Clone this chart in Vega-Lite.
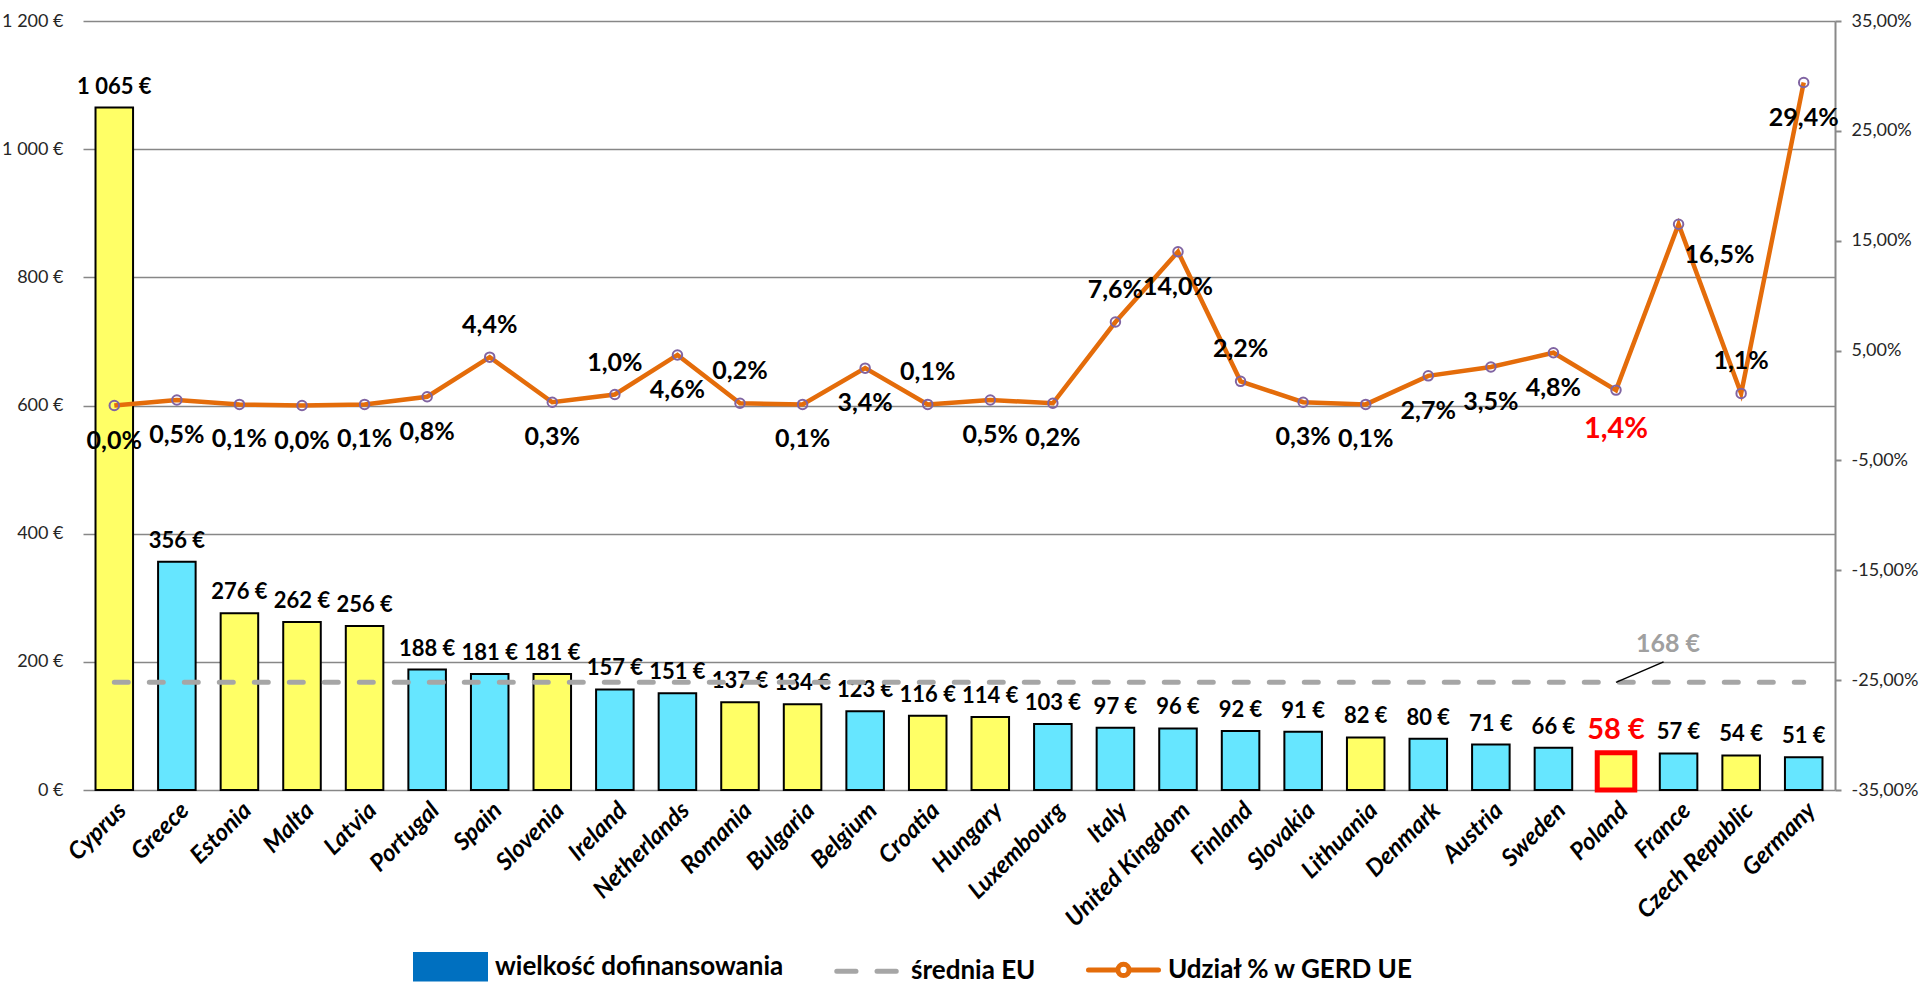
{
  "$schema": "https://vega.github.io/schema/vega-lite/v6.json",
  "width": 1752,
  "height": 769,
  "autosize": {"type": "none"},
  "padding": {"left": 83, "top": 21, "right": 85, "bottom": 196},
  "background": "white",
  "config": {"font": "Lato", "view": {"stroke": null}},
  "data": {
    "values": [
      {"country": "Cyprus", "value": 1065, "pct": 0.0, "grupa": "nowe", "avg": 168},
      {"country": "Greece", "value": 356, "pct": 0.5, "grupa": "stare", "avg": 168},
      {"country": "Estonia", "value": 276, "pct": 0.1, "grupa": "nowe", "avg": 168},
      {"country": "Malta", "value": 262, "pct": 0.0, "grupa": "nowe", "avg": 168},
      {"country": "Latvia", "value": 256, "pct": 0.1, "grupa": "nowe", "avg": 168},
      {"country": "Portugal", "value": 188, "pct": 0.8, "grupa": "stare", "avg": 168},
      {"country": "Spain", "value": 181, "pct": 4.4, "grupa": "stare", "avg": 168},
      {"country": "Slovenia", "value": 181, "pct": 0.3, "grupa": "nowe", "avg": 168},
      {"country": "Ireland", "value": 157, "pct": 1.0, "grupa": "stare", "avg": 168},
      {"country": "Netherlands", "value": 151, "pct": 4.6, "grupa": "stare", "avg": 168},
      {"country": "Romania", "value": 137, "pct": 0.2, "grupa": "nowe", "avg": 168},
      {"country": "Bulgaria", "value": 134, "pct": 0.1, "grupa": "nowe", "avg": 168},
      {"country": "Belgium", "value": 123, "pct": 3.4, "grupa": "stare", "avg": 168},
      {"country": "Croatia", "value": 116, "pct": 0.1, "grupa": "nowe", "avg": 168},
      {"country": "Hungary", "value": 114, "pct": 0.5, "grupa": "nowe", "avg": 168},
      {"country": "Luxembourg", "value": 103, "pct": 0.2, "grupa": "stare", "avg": 168},
      {"country": "Italy", "value": 97, "pct": 7.6, "grupa": "stare", "avg": 168},
      {"country": "United Kingdom", "value": 96, "pct": 14.0, "grupa": "stare", "avg": 168},
      {"country": "Finland", "value": 92, "pct": 2.2, "grupa": "stare", "avg": 168},
      {"country": "Slovakia", "value": 91, "pct": 0.3, "grupa": "stare", "avg": 168},
      {"country": "Lithuania", "value": 82, "pct": 0.1, "grupa": "nowe", "avg": 168},
      {"country": "Denmark", "value": 80, "pct": 2.7, "grupa": "stare", "avg": 168},
      {"country": "Austria", "value": 71, "pct": 3.5, "grupa": "stare", "avg": 168},
      {"country": "Sweden", "value": 66, "pct": 4.8, "grupa": "stare", "avg": 168},
      {"country": "Poland", "value": 58, "pct": 1.4, "grupa": "nowe", "avg": 168},
      {"country": "France", "value": 57, "pct": 16.5, "grupa": "stare", "avg": 168},
      {"country": "Czech Republic", "value": 54, "pct": 1.1, "grupa": "nowe", "avg": 168},
      {"country": "Germany", "value": 51, "pct": 29.4, "grupa": "stare", "avg": 168}
    ]
  },
  "encoding": {
    "x": {
      "field": "country",
      "type": "nominal",
      "sort": null,
      "scale": {"paddingInner": 0.4, "paddingOuter": 0.2},
      "axis": {
        "title": null,
        "labelAngle": -45,
        "labelFontSize": 24,
        "labelFontWeight": "bold",
        "labelFontStyle": "italic",
        "labelColor": "black",
        "labelLimit": 0,
        "ticks": false,
        "domain": false,
        "labelPadding": 8
      }
    }
  },
  "layer": [
    {
      "layer": [
        {
          "mark": {"type": "bar"},
          "encoding": {
            "y": {
              "field": "value",
              "type": "quantitative",
              "scale": {"domain": [0, 1200], "nice": false},
              "axis": {
                "title": null,
                "orient": "left",
                "values": [0, 200, 400, 600, 800, 1000, 1200],
                "labelExpr": "replace(format(datum.value, ','), ',', ' ') + ' €'",
                "domain": false,
                "ticks": false,
                "grid": true,
                "gridColor": "#878787",
                "gridWidth": 1.6,
                "labelFontSize": 18,
                "labelColor": "#262626",
                "labelPadding": 20
              }
            },
            "fill": {
              "field": "grupa",
              "type": "nominal",
              "scale": {"domain": ["nowe", "stare"], "range": ["#FFFF66", "#66E6FF"]},
              "legend": null
            },
            "stroke": {"condition": {"test": "datum.country === 'Poland'", "value": "#FF0000"}, "value": "black"},
            "strokeWidth": {"condition": {"test": "datum.country === 'Poland'", "value": 5}, "value": 2}
          }
        },
        {
          "transform": [{"calculate": "replace(format(datum.value, ','), ',', ' ') + ' €'", "as": "vlabel"}],
          "mark": {"type": "text", "baseline": "alphabetic", "dy": -14, "fontWeight": "bold"},
          "encoding": {
            "y": {"field": "value", "type": "quantitative"},
            "text": {"field": "vlabel"},
            "fill": {"condition": {"test": "datum.country === 'Poland'", "value": "#FF0000"}, "value": "black"},
            "size": {"condition": {"test": "datum.country === 'Poland'", "value": 29}, "value": 22}
          }
        },
        {
          "mark": {"type": "line", "strokeDash": [14, 21], "strokeWidth": 5, "strokeCap": "round"},
          "encoding": {
            "y": {"field": "avg", "type": "quantitative"},
            "color": {
              "datum": "średnia EU",
              "scale": {
                "domain": ["wielkość dofinansowania", "średnia EU", "Udział % w GERD UE"],
                "range": ["#0070C0", "#A6A6A6", "#E46C0A"]
              },
              "legend": {
                "title": null,
                "orient": "none",
                "legendX": 330,
                "legendY": 908,
                "direction": "horizontal",
                "labelFontSize": 26,
                "labelFontWeight": "bold",
                "labelColor": "black",
                "labelLimit": 0,
                "symbolSize": 4900,
                "columnPadding": 42,
                "labelOffset": 7,
                "encode": {
                  "symbols": {
                    "update": {
                      "shape": {"signal": "datum.value === 'wielkość dofinansowania' ? 'M-1,-0.35H1V0.35H-1Z' : (datum.value === 'średnia EU' ? 'M-0.85,0H-0.3M0.3,0H0.85' : 'M-1,0H-0.16M0.16,0H1M0.16,0A0.16,0.16 0 1 1 -0.16,0A0.16,0.16 0 1 1 0.16,0')"},
                      "fill": {"signal": "datum.value === 'wielkość dofinansowania' ? '#0070C0' : 'transparent'"},
                      "stroke": {"signal": "datum.value === 'wielkość dofinansowania' ? 'transparent' : (datum.value === 'średnia EU' ? '#A6A6A6' : '#E46C0A')"},
                      "strokeWidth": {"value": 5},
                      "strokeCap": {"value": "round"},
                      "opacity": {"value": 1}
                    }
                  }
                }
              }
            }
          }
        },
        {
          "transform": [{"filter": "datum.country === 'Poland'"}],
          "mark": {"type": "rule", "color": "black", "strokeWidth": 1.5, "x2Offset": -15},
          "encoding": {
            "y": {"field": "avg", "type": "quantitative"},
            "x2": {"datum": "France"},
            "y2": {"datum": 200}
          }
        },
        {
          "transform": [
            {"filter": "datum.country === 'Poland'"},
            {"calculate": "format(datum.avg, 'd') + ' €'", "as": "alabel"}
          ],
          "mark": {"type": "text", "dx": 52, "dy": -10, "baseline": "alphabetic", "fontWeight": "bold", "fontSize": 25, "fill": "#A0A0A0"},
          "encoding": {
            "y": {"datum": 200},
            "text": {"field": "alabel"}
          }
        }
      ]
    },
    {
      "layer": [
        {
          "mark": {"type": "line", "strokeWidth": 4.5},
          "encoding": {
            "y": {
              "field": "pct",
              "type": "quantitative",
              "scale": {"domain": [-35, 35], "nice": false, "zero": false},
              "axis": {
                "title": null,
                "orient": "right",
                "values": [-35, -25, -15, -5, 5, 15, 25, 35],
                "labelExpr": "(datum.value < 0 ? '-' : '') + replace(format(abs(datum.value), '.2f'), '.', ',') + '%'",
                "grid": false,
                "domain": true,
                "domainColor": "#898989",
                "domainWidth": 2,
                "ticks": true,
                "tickColor": "#898989",
                "tickWidth": 2,
                "tickSize": 6,
                "labelPadding": 10,
                "labelFontSize": 18,
                "labelColor": "#262626"
              }
            },
            "color": {"datum": "Udział % w GERD UE"}
          }
        },
        {
          "mark": {"type": "point", "shape": "circle", "filled": false, "stroke": "#8064A2", "strokeWidth": 2, "size": 90, "opacity": 1},
          "encoding": {"y": {"field": "pct", "type": "quantitative"}}
        },
        {
          "transform": [
            {"filter": {"field": "country", "oneOf": ["Spain", "Ireland", "Romania", "Croatia", "Italy", "Finland", "Czech Republic"]}},
            {"calculate": "replace(format(datum.pct, '.1f'), '.', ',') + '%'", "as": "plabel"}
          ],
          "mark": {"type": "text", "fontWeight": "bold", "fontSize": 25, "dy": -32, "baseline": "middle", "fill": "black"},
          "encoding": {"y": {"field": "pct", "type": "quantitative"}, "text": {"field": "plabel"}}
        },
        {
          "transform": [
            {"filter": {"not": {"field": "country", "oneOf": ["Spain", "Ireland", "Romania", "Croatia", "Italy", "Finland", "Czech Republic", "France", "Poland"]}}},
            {"calculate": "replace(format(datum.pct, '.1f'), '.', ',') + '%'", "as": "plabel"}
          ],
          "mark": {"type": "text", "fontWeight": "bold", "fontSize": 25, "dy": 35, "baseline": "middle", "fill": "black"},
          "encoding": {"y": {"field": "pct", "type": "quantitative"}, "text": {"field": "plabel"}}
        },
        {
          "transform": [
            {"filter": "datum.country === 'France'"},
            {"calculate": "replace(format(datum.pct, '.1f'), '.', ',') + '%'", "as": "plabel"}
          ],
          "mark": {"type": "text", "fontWeight": "bold", "fontSize": 25, "dy": 31, "dx": 6, "align": "left", "baseline": "middle", "fill": "black"},
          "encoding": {"y": {"field": "pct", "type": "quantitative"}, "text": {"field": "plabel"}}
        },
        {
          "transform": [
            {"filter": "datum.country === 'Poland'"},
            {"calculate": "replace(format(datum.pct, '.1f'), '.', ',') + '%'", "as": "plabel"}
          ],
          "mark": {"type": "text", "fontWeight": "bold", "fontSize": 29, "dy": 39, "baseline": "middle", "fill": "#FF0000"},
          "encoding": {"y": {"field": "pct", "type": "quantitative"}, "text": {"field": "plabel"}}
        }
      ]
    }
  ],
  "resolve": {"scale": {"y": "independent"}}
}
